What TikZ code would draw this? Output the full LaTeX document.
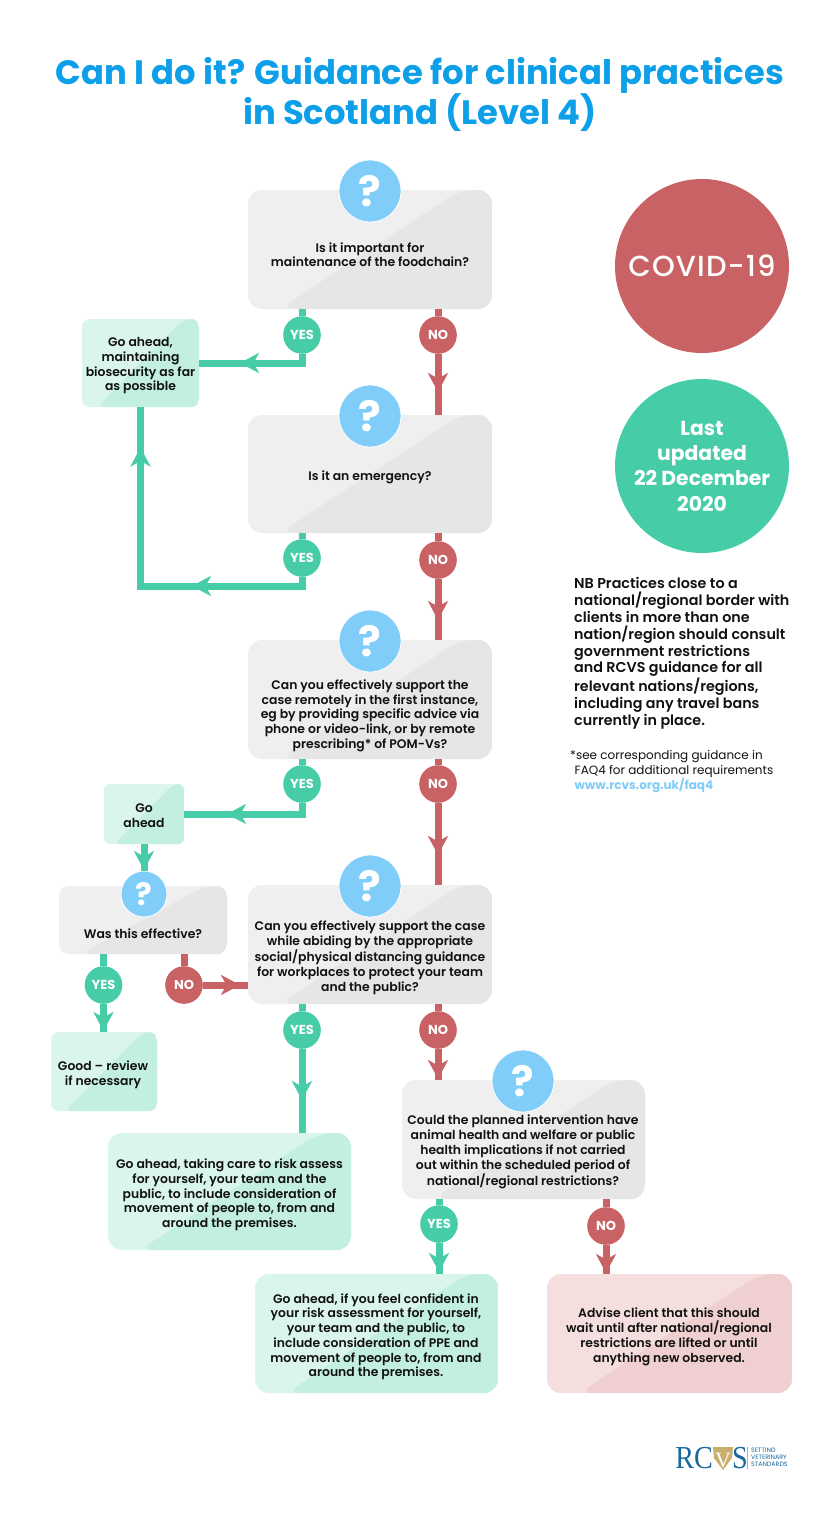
\documentclass[tikz,border=0pt]{standalone}
\usepackage{fontspec}
\setmainfont{Poppins}
\newfontfamily\semi{Poppins SemiBold}
\newfontfamily\medi{Poppins Medium}
\newfontfamily\logoserif{Liberation Serif}
\usetikzlibrary{calc,arrows.meta,decorations.markings}
\definecolor{ttlblue}{HTML}{0E9FE9}
\definecolor{qblue}{HTML}{7FCDF8}
\definecolor{ygreen}{HTML}{46CDA8}
\definecolor{nred}{HTML}{C96264}
\definecolor{grayL}{HTML}{EFEFEF}
\definecolor{grayD}{HTML}{E6E6E6}
\definecolor{greenL}{HTML}{DAF5EC}
\definecolor{greenD}{HTML}{C3EFE0}
\definecolor{redL}{HTML}{F5DEDE}
\definecolor{redD}{HTML}{EFCFD0}
\definecolor{inktxt}{HTML}{111111}
\definecolor{logoblue}{HTML}{17689B}
\definecolor{logogold}{HTML}{C9AE6C}
\newcommand{\flowbox}[7]{%
  \node[boxbase,#6,rounded corners=#7,
    minimum width={(#4-#2)*1pt},minimum height={(#5-#3)*1pt}]
    (#1) at ({(#2+#4)/2},{(#3+#5)/2}) {};}
\tikzset{
  x=1pt,y=-1pt,
  boxbase/.style={inner sep=0pt,outer sep=0pt,shape=rectangle},
  twotone/.style n args={2}{path picture={
    \fill[#1] (path picture bounding box.south west) rectangle (path picture bounding box.north east);
    \fill[#2] ($(path picture bounding box.north west)!0.87!(path picture bounding box.north east)$)
      -- (path picture bounding box.north east) -- (path picture bounding box.south east)
      -- ($(path picture bounding box.south west)!0.13!(path picture bounding box.south east)$) -- cycle;}},
  graybox/.style={twotone={grayL}{grayD}},
  greenbox/.style={twotone={greenL}{greenD}},
  redbox/.style={twotone={redL}{redD}},
  txt/.style={align=center,inner sep=0pt,text=inktxt,yshift=-1.8pt,font=\semi\fontsize{12.4}{14.75}\selectfont},
  qbase/.style={circle,fill=qblue,draw=white,line width=.8pt,text=white,inner sep=0pt},
  qbig/.style={qbase,minimum size=62pt,font=\fontsize{42}{42}\selectfont\bfseries},
  qsmall/.style={qbase,minimum size=46pt,font=\fontsize{31}{31}\selectfont\bfseries},
  ycirc/.style={circle,fill=ygreen,text=white,inner sep=0pt,minimum size=37.6pt,font=\fontsize{13}{13}\selectfont\bfseries},
  ncirc/.style={circle,fill=nred,text=white,inner sep=0pt,minimum size=37.6pt,font=\fontsize{13}{13}\selectfont\bfseries},
  yline/.style={draw=ygreen,line width=7pt},
  nline/.style={draw=nred,line width=7pt},
  tipat/.style={postaction={decorate,decoration={markings,
    mark=at position #1 with {\arrow{Stealth[length=19pt,width=20pt,inset=5.5pt]}}}}},
  bigdisc/.style={circle,inner sep=0pt,minimum size=174pt,text=white,align=center},
}
\begin{document}
\begin{tikzpicture}
\useasboundingbox (0,0) rectangle (840,1520);
\fill[white] (0,0) rectangle (840,1520);

% title
\node[align=center,text=ttlblue,inner sep=0pt,font=\fontsize{33.8}{40}\selectfont\bfseries] (title) at (420,94.5)
  {Can I do it? Guidance for clinical practices\\in Scotland (Level 4)};

% boxes
\flowbox{b1}{248}{190}{492}{309}{graybox}{14pt}
\flowbox{b2}{248}{415}{492}{533}{graybox}{14pt}
\flowbox{b3}{248}{640}{492}{759}{graybox}{14pt}
\flowbox{b4}{248}{885}{492}{1004}{graybox}{14pt}
\flowbox{b5}{402}{1080}{645}{1199}{graybox}{14pt}
\flowbox{be}{59}{886}{227}{954}{graybox}{10pt}
\flowbox{g1}{82}{319}{199}{407}{greenbox}{8pt}
\flowbox{g2}{104}{784}{184}{844}{greenbox}{6pt}
\flowbox{g3}{51}{1032}{157}{1111}{greenbox}{8pt}
\flowbox{g4}{108}{1133}{351}{1250}{greenbox}{14pt}
\flowbox{g5}{255}{1274}{498}{1393}{greenbox}{14pt}
\flowbox{r1}{547}{1274}{792}{1393}{redbox}{14pt}

% circles on the connectors
\node[ycirc] (y1) at (302,335) {YES};
\node[ncirc] (n1) at (438,335) {NO};
\node[ycirc] (y2) at (302,558) {YES};
\node[ncirc] (n2) at (438,560) {NO};
\node[ycirc] (y3) at (302,784) {YES};
\node[ncirc] (n3) at (438,784) {NO};
\node[ycirc] (y4) at (302,1030) {YES};
\node[ncirc] (n4) at (438,1030) {NO};
\node[ycirc] (y5) at (103.5,985) {YES};
\node[ncirc] (n5) at (184,985) {NO};
\node[ycirc] (y6) at (439,1224) {YES};
\node[ncirc] (n6) at (606,1226) {NO};

% question marks
\node[qbig] (q1) at (370,191) {?};
\node[qbig] (q2) at (370,416) {?};
\node[qbig] (q3) at (370,641) {?};
\node[qbig] (q4) at (370,886) {?};
\node[qbig] (q5) at (523,1081) {?};
\node[qsmall] (qe) at (144,894) {?};

% connectors
\coordinate (c2) at (140.5,586);
\draw[yline] (b1.south -| y1) -- (y1);
\draw[nline] (b1.south -| n1) -- (n1);
\draw[yline,tipat=71pt] (y1) |- (g1.east);
\draw[nline,tipat=38pt] (n1) -- (n1 |- b2.north);
\draw[yline] (b2.south -| y2) -- (y2);
\draw[nline] (b2.south -| n2) -- (n2);
\draw[yline,tipat=119pt,tipat=309pt] (y2) |- (c2) -- (g1.south);
\draw[nline,tipat=41pt] (n2) -- (n2 |- b3.north);
\draw[yline] (b3.south -| y3) -- (y3);
\draw[nline] (b3.south -| n3) -- (n3);
\draw[yline,tipat=86pt] (y3) |- (g2.east);
\draw[nline,tipat=52pt] (n3) -- (n3 |- b4.north);
\draw[yline,tipat=26pt] (g2.south -| qe) -- (qe);
\draw[yline] (be.south -| y5) -- (y5);
\draw[nline] (be.south -| n5) -- (n5);
\draw[yline,tipat=27pt] (y5) -- (y5 |- g3.north);
\draw[nline,tipat=37pt] (n5) -- (n5 -| b4.west);
\draw[yline] (b4.south -| y4) -- (y4);
\draw[nline] (b4.south -| n4) -- (n4);
\draw[yline,tipat=51pt] (y4) -- (y4 |- g4.north);
\draw[nline,tipat=30pt] (n4) -- (n4 |- b5.north);
\draw[yline] (b5.south -| y6) -- (y6);
\draw[nline] (b5.south -| n6) -- (n6);
\draw[yline,tipat=29pt] (y6) -- (y6 |- g5.north);
\draw[nline,tipat=28pt] (n6) -- (n6 |- r1.north);

% box texts
\node[txt] (t1) at (370,253) {Is it important for\\maintenance of the foodchain?};
\node[txt] (t2) at (370,476) {Is it an emergency?};
\node[txt] (t3) at (370,714) {Can you effectively support the\\case remotely in the first instance,\\eg by providing specific advice via\\phone or video-link, or by remote\\prescribing* of POM-Vs?};
\node[txt] (t4) at (370,956) {Can you effectively support the case\\while abiding by the appropriate\\social/physical distancing guidance\\for workplaces to protect your team\\and the public?};
\node[txt] (t5) at (523,1150) {Could the planned intervention have\\animal health and welfare or public\\health implications if not carried\\out within the scheduled period of\\national/regional restrictions?};
\node[txt] (te) at (143,931.5) {Was this effective?};
\node[txt] (tg1) at (140.5,364) {Go ahead,\\maintaining\\biosecurity as far\\as possible};
\node[txt] (tg2) at (144,813.5) {Go\\ahead};
\node[txt] (tg3) at (103,1073) {Good – review\\if necessary};
\node[txt] (tg4) at (229.5,1193) {Go ahead, taking care to risk assess\\for yourself, your team and the\\public, to include consideration of\\movement of people to, from and\\around the premises.};
\node[txt] (tg5) at (376,1335) {Go ahead, if you feel confident in\\your risk assessment for yourself,\\your team and the public, to\\include consideration of PPE and\\movement of people to, from and\\around the premises.};
\node[txt] (tr1) at (669,1335) {Advise client that this should\\wait until after national/regional\\restrictions are lifted or until\\anything new observed.};

% right column
\node[bigdisc,fill=nred,font=\medi\fontsize{29}{32}\selectfont\addfontfeatures{LetterSpace=4}] (covid) at (702,266) {COVID-19};
\node[bigdisc,fill=ygreen,font=\fontsize{20.3}{25.3}\selectfont\bfseries] (upd) at (702,466) {Last\\updated\\22 December\\2020};
\node[anchor=north west,align=left,inner sep=0pt,text=inktxt,font=\semi\fontsize{14.3}{16.9}\selectfont] (nb) at (574,577)
  {NB Practices close to a\\national/regional border with\\clients in more than one\\nation/region should consult\\government restrictions\\and RCVS guidance for all\\relevant nations/regions,\\including any travel bans\\currently in place.};
\node[anchor=north west,align=left,inner sep=0pt,text=inktxt,font=\fontsize{12}{15}\selectfont] (fn) at (570,750)
  {*see corresponding guidance in\\\hspace{4.5pt}FAQ4 for additional requirements\\\hspace{4.5pt}\textcolor{qblue}{\bfseries www.rcvs.org.uk/faq4}};

% logo
\fill[logogold] (713,1447) -- (733,1447) -- (732,1458) -- (723,1470) -- (714,1458) -- cycle;
\node[inner sep=0pt,anchor=base east,xscale=.88,text=logoblue,font=\logoserif\fontsize{32}{32}\selectfont] (lrc) at (713,1468) {RC};
\node[inner sep=0pt,anchor=base,text=white,font=\logoserif\fontsize{22}{22}\selectfont] (lv) at (723,1467) {V};
\node[inner sep=0pt,anchor=base west,xscale=.88,text=logoblue,font=\logoserif\fontsize{32}{32}\selectfont] (ls) at (732,1468) {S};
\draw[logogold,line width=.6pt] (747,1447) -- (747,1469);
\node[anchor=north west,align=left,inner sep=0pt,text=logoblue,font=\fontsize{6.3}{7.2}\selectfont] (lt) at (751,1447.5) {SETTING\\VETERINARY\\STANDARDS};
\end{tikzpicture}
\end{document}
